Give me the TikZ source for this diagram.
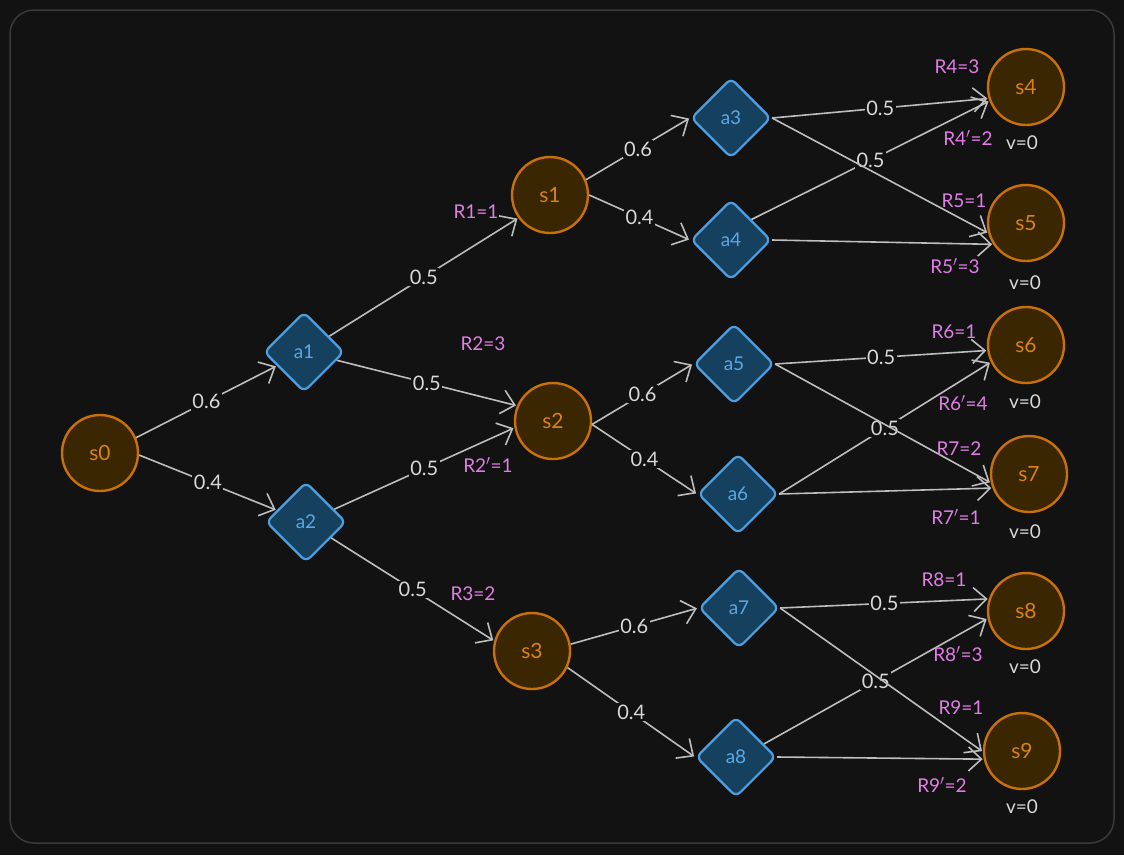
\documentclass[tikz,border=0pt]{standalone}
\usepackage{fontspec}
\setmainfont{Lato}
\usetikzlibrary{shapes.geometric,arrows.meta}
\definecolor{bg}{HTML}{121212}
\definecolor{frame}{HTML}{3A3A3A}
\definecolor{sfill}{HTML}{3A2600}
\definecolor{sdraw}{HTML}{C8700A}
\definecolor{stext}{HTML}{D9821A}
\definecolor{afill}{HTML}{15405E}
\definecolor{adraw}{HTML}{4E9FE0}
\definecolor{atext}{HTML}{5AA8E8}
\definecolor{rpink}{HTML}{E07DE6}
\definecolor{edgec}{HTML}{BDBDBD}
\definecolor{lblc}{HTML}{D8D8D8}
\tikzset{
  state/.style={circle, draw=sdraw, fill=sfill, line width=2.4pt, minimum size=76pt, inner sep=0pt,
    text=stext, font=\fontsize{21}{24}\selectfont},
  act/.style={diamond, draw=adraw, fill=afill, line width=2.2pt, minimum width=80pt, minimum height=80pt,
    inner sep=0pt, rounded corners=6pt, text=atext, font=\fontsize{19}{22}\selectfont},
  rew/.style={text=rpink, font=\fontsize{19}{22}\selectfont, inner sep=1pt},
  val/.style={text=lblc, font=\fontsize{19}{22}\selectfont, inner sep=1pt},
  tr/.style={draw=edgec, line width=1.6pt, -{Straight Barb[length=13pt,width=24pt,line width=1.6pt]}, shorten >=1pt},
  pl/.style={fill=bg, text=lblc, font=\fontsize{20}{23}\selectfont, inner sep=1.5pt, midway}
}
\begin{document}
\begin{tikzpicture}[x=1pt,y=-1pt]
\fill[bg] (0,0) rectangle (1124,855);
\useasboundingbox (0,0) rectangle (1124,855);
\draw[frame, line width=1.5pt, rounded corners=24pt] (10,10) rectangle (1114,843);

% states
\node[state] (s0) at (100,453) {s0};
\node[state] (s1) at (550,195) {s1};
\node[state] (s2) at (553,421) {s2};
\node[state] (s3) at (532,651) {s3};
\node[state] (s4) at (1026,87) {s4};
\node[state] (s5) at (1026,223) {s5};
\node[state] (s6) at (1026,345) {s6};
\node[state] (s7) at (1029,474) {s7};
\node[state] (s8) at (1026,611) {s8};
\node[state] (s9) at (1022,751) {s9};

% actions
\node[act] (a1) at (304,352) {a1};
\node[act] (a2) at (306,522) {a2};
\node[act] (a3) at (731,118) {a3};
\node[act] (a4) at (731,240) {a4};
\node[act] (a5) at (734,364) {a5};
\node[act] (a6) at (738,494) {a6};
\node[act] (a7) at (739,608) {a7};
\node[act] (a8) at (736,757) {a8};

% transitions
\draw[tr] (s0.23) -- (a1) node[pl] (p01) {0.6};
\draw[tr] (s0.-3) -- (a2) node[pl] (p02) {0.4};
\draw[tr] (a1) -- (s1.216) node[pl] (p11) {0.5};
\draw[tr] (a1) -- (s2.157) node[pl] (p12) {0.5};
\draw[tr] (a2) -- (s2.190) node[pl] (p22) {0.5};
\draw[tr] (a2) -- (s3.165) node[pl] (p23) {0.5};
\draw[tr] (s1.23) -- (a3.west) node[pl] (p13) {0.6};
\draw[tr] (s1.0) -- (a4.west) node[pl] (p14) {0.4};
\draw[tr] (s2.-5) -- (a5.west) node[pl] (p25) {0.6};
\draw[tr] (s2.-5) -- (a6.west) node[pl] (p26) {0.4};
\draw[tr] (s3.10) -- (a7.west) node[pl] (p37) {0.6};
\draw[tr] (s3.-25) -- (a8.west) node[pl] (p38) {0.4};

\draw[tr] (a3.east) -- (s4.197) node[pl] (p34) {0.5};
\draw[tr] (a4.north east) -- (s4.201) node[pl] (p44) {0.5};
\draw[tr] (a5.east) -- (s6.188) node[pl] (p56) {0.5};
\draw[tr] (a6.east) -- (s6.206) node[pl] (p66) {0.5};
\draw[tr] (a7.east) -- (s8.162) node[pl] (p78) {0.5};
\draw[tr] (a8.25) -- (s8.191) node[pl] (p88) {0.5};
\draw[tr] (a3.east) -- (s5.195);
\draw[tr] (a4.east) -- (s5.213);
\draw[tr] (a5.east) -- (s7.193);
\draw[tr] (a6.east) -- (s7.201);
\draw[tr] (a7.east) -- (s9.181);
\draw[tr] (a8.east) -- (s9.192);

% rewards
\node[rew] (r1) at (476,212) {R1=1};
\node[rew] (r2) at (483,344) {R2=3};
\node[rew] (r2p) at (488,465) {R2$'$=1};
\node[rew] (r3) at (473,594) {R3=2};
\node[rew] (r4) at (957,67) {R4=3};
\node[rew] (r4p) at (968,138) {R4$'$=2};
\node[rew] (r5) at (964,201) {R5=1};
\node[rew] (r5p) at (955,266) {R5$'$=3};
\node[rew] (r6) at (954,332) {R6=1};
\node[rew] (r6p) at (963,403) {R6$'$=4};
\node[rew] (r7) at (959,449) {R7=2};
\node[rew] (r7p) at (956,517) {R7$'$=1};
\node[rew] (r8) at (944,580) {R8=1};
\node[rew] (r8p) at (958,654) {R8$'$=3};
\node[rew] (r9) at (961,708) {R9=1};
\node[rew] (r9p) at (942,785) {R9$'$=2};

% values
\node[val] (v4) at (1022,143) {v=0};
\node[val] (v5) at (1025,283) {v=0};
\node[val] (v6) at (1025,402) {v=0};
\node[val] (v7) at (1025,532) {v=0};
\node[val] (v8) at (1025,667) {v=0};
\node[val] (v9) at (1022,807) {v=0};
\end{tikzpicture}
\end{document}
